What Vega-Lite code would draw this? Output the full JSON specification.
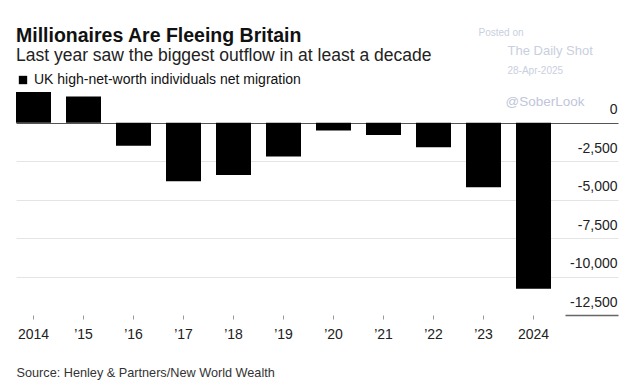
{
  "$schema": "https://vega.github.io/schema/vega-lite/v6.json",
  "width": 602,
  "height": 223,
  "autosize": {"type": "none"},
  "padding": {"left": 16, "top": 92, "right": 14, "bottom": 75},
  "background": "#ffffff",
  "config": {
    "font": "Liberation Sans",
    "view": {"stroke": null},
    "locale": {
      "number": {"decimal": ".", "thousands": ",", "grouping": [3], "currency": ["$", ""], "minus": "-"}
    }
  },
  "title": {
    "text": "Millionaires Are Fleeing Britain",
    "subtitle": "Last year saw the biggest outflow in at least a decade",
    "anchor": "start",
    "frame": "group",
    "fontSize": 19.5,
    "fontWeight": "bold",
    "color": "#111111",
    "subtitleFontSize": 17.5,
    "subtitleColor": "#222222",
    "subtitlePadding": 0,
    "offset": 9,
    "dy": 46
  },
  "datasets": {
    "migration": [
      {"year": "2014", "value": 2000, "series": "UK high-net-worth individuals net migration"},
      {"year": "’15", "value": 1700, "series": "UK high-net-worth individuals net migration"},
      {"year": "’16", "value": -1500, "series": "UK high-net-worth individuals net migration"},
      {"year": "’17", "value": -3800, "series": "UK high-net-worth individuals net migration"},
      {"year": "’18", "value": -3400, "series": "UK high-net-worth individuals net migration"},
      {"year": "’19", "value": -2200, "series": "UK high-net-worth individuals net migration"},
      {"year": "’20", "value": -500, "series": "UK high-net-worth individuals net migration"},
      {"year": "’21", "value": -800, "series": "UK high-net-worth individuals net migration"},
      {"year": "’22", "value": -1600, "series": "UK high-net-worth individuals net migration"},
      {"year": "’23", "value": -4200, "series": "UK high-net-worth individuals net migration"},
      {"year": "2024", "value": -10800, "series": "UK high-net-worth individuals net migration"}
    ]
  },
  "layer": [
    {
      "data": {"name": "migration"},
      "mark": {"type": "bar"},
      "encoding": {
        "x": {
          "field": "year",
          "type": "nominal",
          "sort": null,
          "scale": {"paddingInner": 0.3, "paddingOuter": 0.67, "align": 0},
          "axis": {
            "title": "Source: Henley & Partners/New World Wealth",
            "titleAnchor": "start",
            "titleAlign": "left",
            "titleFontSize": 12.7,
            "titleFontWeight": "normal",
            "titleColor": "#333333",
            "titlePadding": 25,
            "labelAngle": 0,
            "labelFontSize": 14,
            "labelColor": "#222222",
            "labelPadding": 8,
            "domain": false,
            "ticks": true,
            "tickSize": 4,
            "tickColor": "#999999",
            "grid": false
          }
        },
        "y": {
          "field": "value",
          "type": "quantitative",
          "scale": {"domain": [-12500, 2000], "nice": false, "zero": false},
          "axis": {
            "orient": "right",
            "title": null,
            "values": [0, -2500, -5000, -7500, -10000, -12500],
            "format": ",d",
            "domain": false,
            "grid": true,
            "gridColor": {
              "condition": [
                {"test": "datum.value === 0", "value": "#555555"},
                {"test": "datum.value === -12500", "value": "transparent"}
              ],
              "value": "#e4e4e4"
            },
            "ticks": true,
            "tickSize": -53,
            "tickWidth": 1.5,
            "tickColor": {
              "condition": {"test": "datum.value === -12500", "value": "#666666"},
              "value": "transparent"
            },
            "labelAlign": "right",
            "labelBaseline": "alphabetic",
            "labelOffset": -9,
            "labelPadding": 52,
            "labelFontSize": 14,
            "labelColor": "#222222"
          }
        },
        "color": {
          "field": "series",
          "type": "nominal",
          "scale": {"range": ["#000000"]},
          "legend": {
            "title": null,
            "orient": "none",
            "legendX": 0,
            "legendY": -19,
            "symbolType": "square",
            "symbolSize": 70,
            "symbolStrokeWidth": 0,
            "labelFontSize": 14,
            "labelColor": "#111111",
            "labelOffset": 4,
            "labelLimit": 0
          }
        }
      }
    },
    {
      "data": {"values": [{"note": "Posted on"}]},
      "mark": {"type": "text", "align": "left", "baseline": "middle", "fontSize": 10, "color": "#c9cfe0", "dx": -55},
      "encoding": {"x": {"datum": "2024"}, "y": {"datum": 5836}, "text": {"field": "note"}}
    },
    {
      "data": {"values": [{"note": "The Daily Shot"}]},
      "mark": {"type": "text", "align": "left", "baseline": "middle", "fontSize": 13, "color": "#c9cfe0", "dx": -26},
      "encoding": {"x": {"datum": "2024"}, "y": {"datum": 4685}, "text": {"field": "note"}}
    },
    {
      "data": {"values": [{"note": "28-Apr-2025"}]},
      "mark": {"type": "text", "align": "left", "baseline": "middle", "fontSize": 10, "color": "#c9cfe0", "dx": -26},
      "encoding": {"x": {"datum": "2024"}, "y": {"datum": 3365}, "text": {"field": "note"}}
    },
    {
      "data": {"values": [{"note": "@SoberLook"}]},
      "mark": {"type": "text", "align": "left", "baseline": "middle", "fontSize": 13.5, "color": "#bfc6da", "dx": -28},
      "encoding": {"x": {"datum": "2024"}, "y": {"datum": 1350}, "text": {"field": "note"}}
    }
  ]
}
